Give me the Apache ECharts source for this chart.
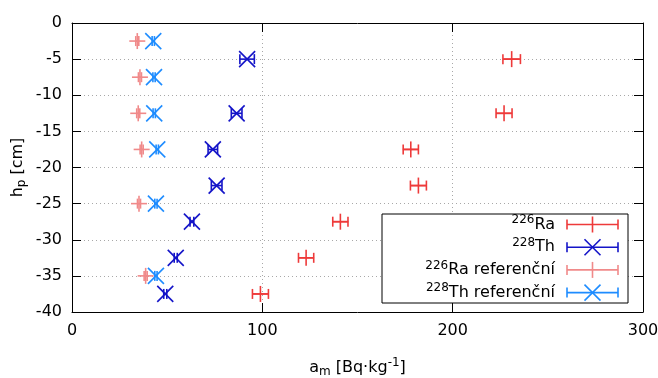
<!DOCTYPE html>
<html>
<head>
<meta charset="utf-8">
<script src="https://cdn.jsdelivr.net/npm/echarts@6/dist/echarts.min.js"></script>
<style>
  html, body { margin: 0; padding: 0; background: #fff; }
  #chart { width: 658px; height: 378px; }
</style>
</head>
<body>
<div id="chart"></div>
<script>
// hloubky vzorku
var depths = [-5, -12.5, -17.5, -22.5, -27.5, -32.5, -37.5];
var raVals = [231, 227, 178, 182, 141, 123, 99];
var raErr  = [4.6, 4.2, 4.0, 4.2, 4.0, 4.0, 4.2];
var thVals = [92, 86.5, 74, 76, 63, 54.5, 49];
var thErr  = [3.8, 2.8, 2.5, 2.8, 1.0, 0.8, 0.8];

// referencni body
var refDepths = [-2.5, -7.5, -12.5, -17.5, -25, -35];
var raRef    = [34.3, 35.7, 34.8, 36.6, 35.2, 38.7];
var raRefErr = [0.8, 0.8, 0.8, 0.8, 0.8, 0.8];
var thRef    = [42.7, 43.1, 43.2, 44.8, 44.1, 44.1];
var thRefErr = [0.6, 0.6, 0.6, 0.6, 0.6, 0.6];

var xTicks = [0, 100, 200, 300];

var FONT = 'DejaVu Sans';
var cRa = '#ee3a3a', cTh = '#1414c8', cRaRef = '#f08a8a', cThRef = '#1e8cff';

function pts(vals, ys, errs) {
    return vals.map(function (v, i) { return [v, ys[i], errs[i]]; });
}

function ln(x1, y1, x2, y2, color, z) {
    var o = { type: 'line', shape: { x1: x1, y1: y1, x2: x2, y2: y2 },
              style: { stroke: color, lineWidth: 1.6 } };
    if (z) o.z = z;
    return o;
}

// errorbar + znacka (+ nebo x)
function makeRender(color, shape) {
    return function (params, api) {
        var x = api.value(0), y = api.value(1), e = api.value(2);
        var c = api.coord([x, y]);
        var a = api.coord([x - e, y]);
        var b = api.coord([x + e, y]);
        var s = 8, t = 5;
        var kids = [
            ln(a[0], c[1], b[0], c[1], color),
            ln(a[0], c[1] - t, a[0], c[1] + t, color),
            ln(b[0], c[1] - t, b[0], c[1] + t, color)
        ];
        if (shape === '+') {
            kids.push(ln(c[0] - s, c[1], c[0] + s, c[1], color));
            kids.push(ln(c[0], c[1] - s, c[0], c[1] + s, color));
        } else {
            kids.push(ln(c[0] - s, c[1] - s, c[0] + s, c[1] + s, color));
            kids.push(ln(c[0] - s, c[1] + s, c[0] + s, c[1] - s, color));
        }
        return { type: 'group', children: kids };
    };
}

var richTxt = {
    n:   { fontFamily: FONT, fontSize: 16, color: '#000', lineHeight: 21 },
    sup: { fontFamily: FONT, fontSize: 12, color: '#000', lineHeight: 21, verticalAlign: 'top', padding: [0, 0, 8, 0] },
    sub: { fontFamily: FONT, fontSize: 12, color: '#000', lineHeight: 21, padding: [8, 0, 0, 0] }
};

// legenda
var legX = 382, legY = 214, legW = 246, legH = 89;
var legItems = [
    { txt: '{sup|226}{n|Ra}', color: cRa, shape: '+' },
    { txt: '{sup|228}{n|Th}', color: cTh, shape: 'x' },
    { txt: '{sup|226}{n|Ra referenční}', color: cRaRef, shape: '+' },
    { txt: '{sup|228}{n|Th referenční}', color: cThRef, shape: 'x' }
];
var legGraphics = [{
    type: 'rect', z: 50,
    shape: { x: legX, y: legY, width: legW, height: legH },
    style: { fill: '#fff', stroke: '#000', lineWidth: 1 }
}];
legItems.forEach(function (it, i) {
    var cy = 224.5 + i * 22.7;
    legGraphics.push({
        type: 'text', z: 51, x: 555, y: cy,
        style: { text: it.txt, rich: richTxt, align: 'right', verticalAlign: 'middle' }
    });
    var x1 = 567, x2 = 618, cx = 592.5, s = 8, t = 5, c = it.color;
    legGraphics.push(ln(x1, cy, x2, cy, c, 52));
    legGraphics.push(ln(x1, cy - t, x1, cy + t, c, 52));
    legGraphics.push(ln(x2, cy - t, x2, cy + t, c, 52));
    if (it.shape === '+') {
        legGraphics.push(ln(cx, cy - s, cx, cy + s, c, 52));
    } else {
        legGraphics.push(ln(cx - s, cy - s, cx + s, cy + s, c, 52));
        legGraphics.push(ln(cx - s, cy + s, cx + s, cy - s, c, 52));
    }
});

var chart = echarts.init(document.getElementById('chart'));

var gridLine = { show: true, lineStyle: { color: '#a8a8a8', type: [1, 3], width: 1 } };
var axLine = { show: true, onZero: false, lineStyle: { color: '#000', width: 1 } };
var axTick = { show: true, inside: true, length: 9, lineStyle: { color: '#000' } };

chart.setOption({
    animation: false,
    backgroundColor: '#fff',
    grid: { left: 72, right: 15, top: 23, bottom: 66, containLabel: false, outerBoundsMode: 'none' },
    xAxis: [{
        type: 'value', min: xTicks[0], max: xTicks[xTicks.length - 1], interval: 100,
        axisLine: axLine, axisTick: axTick, splitLine: gridLine,
        axisLabel: { fontFamily: FONT, fontSize: 16, color: '#000', margin: 11 },
        name: '{n|a}{sub|m}{n| [Bq·kg}{sup|-1}{n|]}', nameLocation: 'middle', nameGap: 45,
        nameMoveOverlap: false,
        nameTextStyle: { rich: richTxt }
    }, {
        type: 'value', position: 'top', min: 0, max: 300, interval: 100,
        axisLine: axLine, axisTick: axTick, splitLine: { show: false }, axisLabel: { show: false }
    }],
    yAxis: [{
        type: 'value', min: -40, max: 0, interval: 5,
        axisLine: axLine, axisTick: axTick, splitLine: gridLine,
        axisLabel: { fontFamily: FONT, fontSize: 16, color: '#000', margin: 10 },
        name: '{n|h}{sub|p}{n| [cm]}', nameLocation: 'middle', nameGap: 44, nameRotate: 90,
        nameMoveOverlap: false,
        nameTextStyle: { rich: richTxt }
    }, {
        type: 'value', position: 'right', min: -40, max: 0, interval: 5,
        axisLine: axLine, axisTick: axTick, splitLine: { show: false }, axisLabel: { show: false }
    }],
    series: [
        { type: 'custom', name: '226Ra', renderItem: makeRender(cRa, '+'), data: pts(raVals, depths, raErr), encode: { x: 0, y: 1 }, z: 3 },
        { type: 'custom', name: '228Th', renderItem: makeRender(cTh, 'x'), data: pts(thVals, depths, thErr), encode: { x: 0, y: 1 }, z: 3 },
        { type: 'custom', name: '226Ra referenční', renderItem: makeRender(cRaRef, '+'), data: pts(raRef, refDepths, raRefErr), encode: { x: 0, y: 1 }, z: 3 },
        { type: 'custom', name: '228Th referenční', renderItem: makeRender(cThRef, 'x'), data: pts(thRef, refDepths, thRefErr), encode: { x: 0, y: 1 }, z: 3 }
    ],
    graphic: legGraphics
});
</script>
</body>
</html>
